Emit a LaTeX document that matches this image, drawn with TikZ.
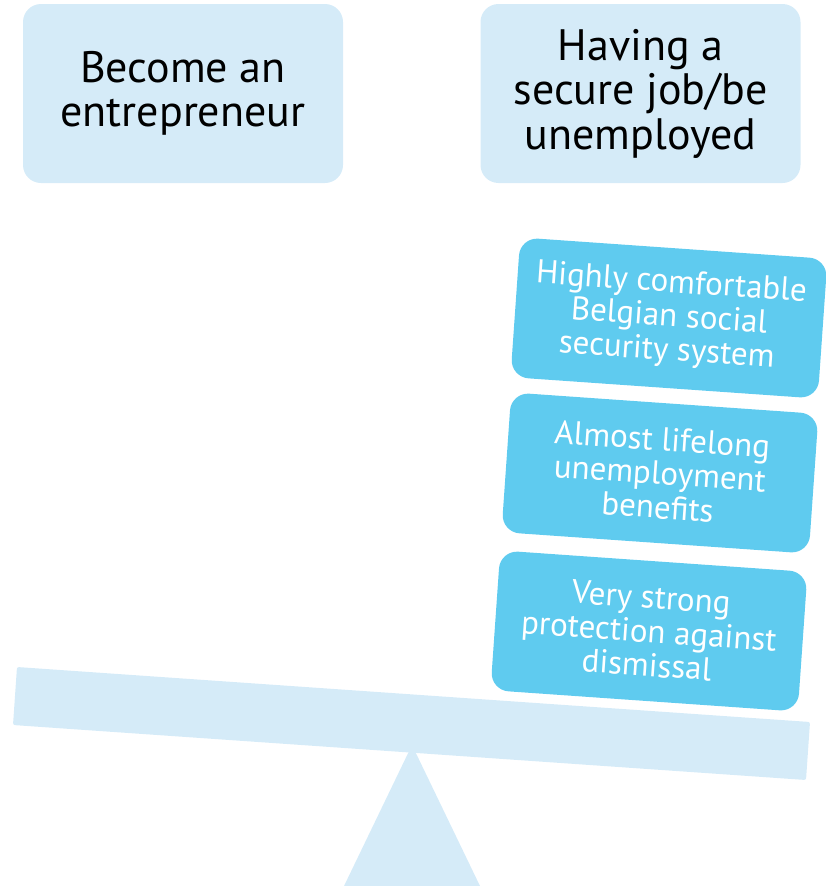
\documentclass[tikz,border=0pt]{standalone}
\usepackage{fontspec}
\setmainfont{PT Sans}
\definecolor{palebeam}{HTML}{D5EBF8}
\definecolor{weightblue}{HTML}{5FCBEF}
\tikzset{
    topbox/.style={fill=palebeam, rounded corners=18pt, minimum width=320pt, minimum height=179pt,
        align=center, font=\fontsize{44}{44.5}\selectfont, inner sep=0pt},
    weightbox/.style={fill=weightblue, rounded corners=18pt, minimum width=308pt, minimum height=140pt,
        align=center, text=white, font=\fontsize{33}{34}\selectfont, inner sep=0pt, rotate=-4}
}
\begin{document}
\begin{tikzpicture}[x=1pt, y=-1pt]
    \useasboundingbox (0,0) rectangle (825,886);

    % the two choices
    \node[topbox] (entre) at (183,93.5) {Become an\\entrepreneur};
    \node[topbox] (secure) at (640.5,93.5) {Having a\\secure job/be\\unemployed};

    % weights on the right side
    \node[weightbox] (weightA) at (669,318) {Highly comfortable\\Belgian social\\security system};
    \node[weightbox] (weightB) at (660,473) {Almost lifelong\\unemployment\\benefits};
    \node[weightbox] (weightC) at (649,631) {Very strong\\protection against\\dismissal};

    % the scale
    \fill[palebeam] (412,745) -- (480,886) -- (344,886) -- cycle;
    \fill[palebeam, rounded corners=2pt] (17,667) -- (810,722) -- (806,780) -- (13,725) -- cycle;
\end{tikzpicture}
\end{document}
